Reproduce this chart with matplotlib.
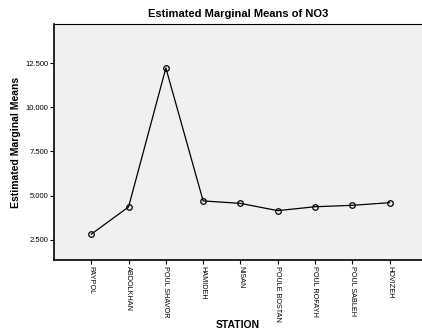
import numpy as np
import matplotlib
matplotlib.use("Agg")
import matplotlib.pyplot as plt
from matplotlib.ticker import FormatStrFormatter

plt.rcParams['font.family'] = ['Liberation Sans', 'DejaVu Sans']

stations = ["PAYPOL", "ABDOLKHAN", "POUL SHAVOR", "HAMIDEH", "NISAN",
            "POULE BOSTAN", "POUL ROFAYH", "POUL SABLEH", "HOVIZEH"]
means = [2.82, 4.36, 12.22, 4.70, 4.56, 4.15, 4.37, 4.45, 4.60]
yticks = [2.5, 5.0, 7.5, 10.0, 12.5]

fig = plt.figure(figsize=(4.22, 3.35), dpi=100)
ax = fig.add_axes([0.128, 0.224, 0.872, 0.704])
ax.set_facecolor("#f0f0f0")

x = np.arange(1, len(stations) + 1)
ax.plot(x, means, color="black", lw=0.9, marker="o", ms=4,
        mfc="none", mec="black", mew=0.9)

ax.set_xlim(0, 9.87)
ax.set_ylim(1.36, 14.7)
ax.set_xticks(x)
ax.set_xticklabels(stations, rotation=270, fontsize=5.2, va="top")
ax.set_yticks(yticks)
ax.yaxis.set_major_formatter(FormatStrFormatter("%.3f"))
ax.tick_params(axis="y", labelsize=5.5, length=3, width=0.8, pad=1)
ax.tick_params(axis="x", length=3, width=0.8, pad=1)

for s in ["left", "bottom"]:
    ax.spines[s].set_linewidth(1.2)
ax.spines["top"].set_linewidth(0.8)
ax.spines["right"].set_visible(False)

ax.set_title("Estimated Marginal Means of NO3", fontsize=8, fontweight="bold", pad=5)
ax.set_ylabel("Estimated Marginal Means", fontsize=7.5, fontweight="bold", va="center")
ax.yaxis.set_label_coords(-0.103, 0.5)
ax.set_xlabel("STATION", fontsize=7.5, fontweight="bold", va="center")
ax.xaxis.set_label_coords(0.5, -0.275)

fig.savefig("out.png", dpi=100)
